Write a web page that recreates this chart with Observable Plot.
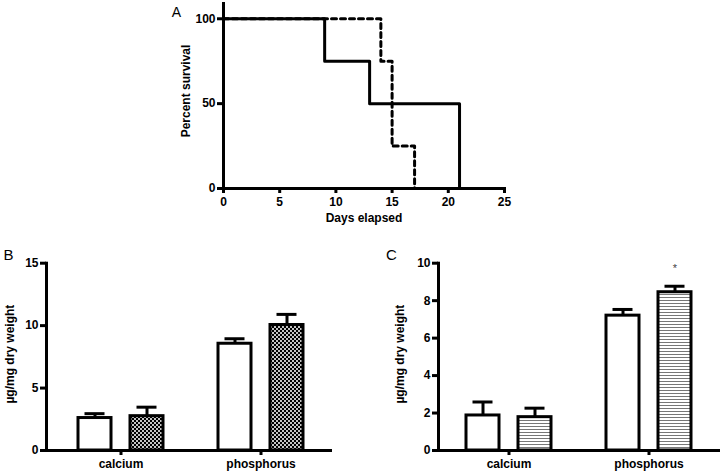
<!DOCTYPE html>
<html><head><meta charset="utf-8">
<script src="https://cdn.jsdelivr.net/npm/d3@7"></script>
<script src="https://cdn.jsdelivr.net/npm/@observablehq/plot@0.6"></script>
<style>
body{margin:0;background:#fff;}
#fig{position:relative;width:720px;height:472px;overflow:hidden;background:#fff;}
</style></head><body>
<svg width="0" height="0" style="position:absolute">
  <defs>
    <pattern id="checker" width="4" height="4" patternUnits="userSpaceOnUse">
      <rect width="4" height="4" fill="#c4c4c4"/>
      <rect width="2" height="2" fill="#000000"/>
      <rect x="2" y="2" width="2" height="2" fill="#000000"/>
    </pattern>
    <pattern id="hlines" width="4" height="3" patternUnits="userSpaceOnUse">
      <rect width="4" height="3" fill="#ffffff"/>
      <rect width="4" height="1" fill="#777777"/>
    </pattern>
  </defs>
</svg>
<div id="fig"></div>
<script>
// ---- Panel A: survival ----
const solidDays = [0, 9, 13, 21];
const solidSurvival = [100, 75, 50, 0];
const dottedDays = [0, 14, 15, 17];
const dottedSurvival = [100, 75, 25, 0];
const survivalTicks = [0, 50, 100];
const dayTicks = [0, 5, 10, 15, 20, 25];

// ---- Panels B and C: bars ----
const categories = ["calcium", "phosphorus"];
const bControlMean = [2.6, 8.55];
const bControlSem = [0.35, 0.4];
const bTreatedMean = [2.75, 10.05];
const bTreatedSem = [0.72, 0.85];
const bTicks = [0, 5, 10, 15];
const bSignificance = ["", ""];

const cControlMean = [1.87, 7.2];
const cControlSem = [0.72, 0.33];
const cTreatedMean = [1.78, 8.45];
const cTreatedSem = [0.48, 0.32];
const cTicks = [0, 2, 4, 6, 8, 10];
const cSignificance = ["", "*"];

const FONT = "'Liberation Sans', Arial, Helvetica, sans-serif";
const fig = document.getElementById("fig");
function place(el, left, top) {
  el.style.position = "absolute";
  el.style.left = left + "px";
  el.style.top = top + "px";
  fig.appendChild(el);
}

const survSolid = solidDays.map((d, i) => ({day: d, pct: solidSurvival[i]}));
const survDotted = dottedDays.map((d, i) => ({day: d, pct: dottedSurvival[i]}));

const panelA = Plot.plot({
  width: 720, height: 226,
  marginLeft: 223, marginRight: 216, marginTop: 3, marginBottom: 38,
  x: {domain: [0, 25]},
  y: {domain: [0, 109]},
  style: {fontFamily: FONT, fontSize: "12px", color: "black", background: "transparent"},
  marks: [
    Plot.line(survDotted, {x: "day", y: "pct", curve: "step-after", stroke: "black", strokeWidth: 3, strokeDasharray: "5,4"}),
    Plot.line(survSolid, {x: "day", y: "pct", curve: "step-after", stroke: "black", strokeWidth: 3}),
    Plot.frame({anchor: "left", stroke: "black", strokeWidth: 3, strokeLinecap: "square"}),
    Plot.frame({anchor: "bottom", stroke: "black", strokeWidth: 3, strokeLinecap: "square"}),
    Plot.axisY({ticks: survivalTicks, tickSize: 6, tickPadding: 2, strokeWidth: 3, fontSize: 12, fontWeight: "bold", label: null}),
    Plot.axisX({ticks: dayTicks, tickSize: 5, tickPadding: 4, strokeWidth: 3, fontSize: 12, fontWeight: "bold", label: null}),
    Plot.text(["Percent survival"], {text: d => d, frameAnchor: "left", textAnchor: "middle", lineAnchor: "middle", rotate: -90, dx: -37, dy: -5, fontSize: 12, fontWeight: "bold"}),
    Plot.text(["Days elapsed"], {text: d => d, frameAnchor: "bottom", textAnchor: "middle", lineAnchor: "middle", dy: 30, fontSize: 12, fontWeight: "bold"}),
    Plot.text(["A"], {text: d => d, frameAnchor: "top-left", textAnchor: "middle", lineAnchor: "middle", dx: -47, dy: 9, fontSize: 14})
  ]
});
place(panelA, 0, 0);

function barPanel(o) {
  const ctrl = categories.map((c, i) => ({cat: c, mean: o.ctrlMean[i], upper: o.ctrlMean[i] + o.ctrlSem[i]}));
  const trt = categories.map((c, i) => ({cat: c, mean: o.trtMean[i], upper: o.trtMean[i] + o.trtSem[i], sig: o.sig[i]}));
  return Plot.plot({
    width: 360, height: 232,
    marginLeft: o.marginLeft, marginRight: o.marginRight, marginTop: 22.7, marginBottom: 22,
    x: {domain: categories, paddingInner: o.pi, paddingOuter: o.po, align: o.align},
    y: {domain: [0, o.ymax]},
    style: {fontFamily: FONT, fontSize: "12px", color: "black", background: "transparent"},
    marks: [
      Plot.ruleX(ctrl, {x: "cat", y1: "mean", y2: "upper", dx: -26, stroke: "black", strokeWidth: 3}),
      Plot.tickY(ctrl, {x: "cat", y: "upper", dx: -26, stroke: "black", strokeWidth: 3, insetLeft: 6.5, insetRight: 6.5}),
      Plot.ruleX(trt, {x: "cat", y1: "mean", y2: "upper", dx: 26, stroke: "black", strokeWidth: 3}),
      Plot.tickY(trt, {x: "cat", y: "upper", dx: 26, stroke: "black", strokeWidth: 3, insetLeft: 6.5, insetRight: 6.5}),
      Plot.frame({anchor: "left", stroke: "black", strokeWidth: 3, strokeLinecap: "square"}),
      Plot.frame({anchor: "bottom", stroke: "black", strokeWidth: 3, strokeLinecap: "square"}),
      Plot.barY(ctrl, {x: "cat", y: "mean", dx: -26, fill: "white", stroke: "black", strokeWidth: 3}),
      Plot.barY(trt, {x: "cat", y: "mean", dx: 26, fill: o.pattern, stroke: "black", strokeWidth: 3}),
      Plot.axisY({ticks: o.ticks, tickSize: 6, tickPadding: 2, strokeWidth: 3, fontSize: 12, fontWeight: "bold", label: null}),
      Plot.axisX({tickSize: 5, tickPadding: 4, strokeWidth: 3, fontSize: 12, fontWeight: "bold", label: null}),
      Plot.text(trt, {x: "cat", y: "upper", text: "sig", dx: 26, dy: -18, fontSize: 11, fill: "#444"}),
      Plot.text(["µg/mg dry weight"], {text: d => d, frameAnchor: "left", textAnchor: "middle", lineAnchor: "middle", rotate: -90, dx: o.labelDx, dy: -2.7, fontSize: 12, fontWeight: "bold"}),
      Plot.text([o.letter], {text: d => d, frameAnchor: "top-left", textAnchor: "middle", lineAnchor: "middle", dx: o.letterDx, dy: -7.7, fontSize: 15})
    ]
  });
}

const panelB = barPanel({
  ctrlMean: bControlMean, ctrlSem: bControlSem, trtMean: bTreatedMean, trtSem: bTreatedSem,
  sig: bSignificance, ticks: bTicks, ymax: 15, pattern: "url(#checker)",
  marginLeft: 46, marginRight: 30, pi: 0.765, po: 0.393, align: 0.52,
  labelDx: -36.5, letter: "B", letterDx: -38
});
place(panelB, 0, 240);

const panelC = barPanel({
  ctrlMean: cControlMean, ctrlSem: cControlSem, trtMean: cTreatedMean, trtSem: cTreatedSem,
  sig: cSignificance, ticks: cTicks, ymax: 10, pattern: "url(#hlines)",
  marginLeft: 78, marginRight: 2, pi: 0.766, po: 0.376, align: 0.5,
  labelDx: -38, letter: "C", letterDx: -47
});
place(panelC, 360, 240);
</script>
</body></html>
